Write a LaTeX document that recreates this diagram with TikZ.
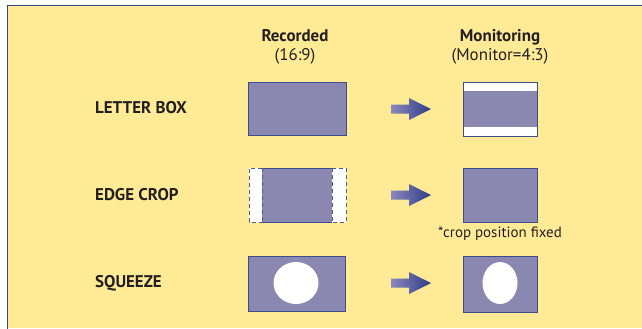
\documentclass[tikz,border=0pt]{standalone}
\usepackage{fontspec}
\setmainfont{PT Sans}
\definecolor{bgy}{RGB}{255,234,150}
\definecolor{boxp}{RGB}{138,136,176}
\definecolor{boxb}{RGB}{60,76,140}
\definecolor{framb}{RGB}{50,70,140}
\definecolor{arrl}{RGB}{140,135,190}
\definecolor{arrd}{RGB}{45,60,135}
\definecolor{txt}{RGB}{35,31,32}
\begin{document}
\begin{tikzpicture}[x=1bp,y=-1bp,
  lbl/.style={font=\bfseries\fontsize{17}{20}\selectfont, text=txt, anchor=west, inner sep=0pt},
  head/.style={font=\fontsize{17}{18.5}\selectfont, text=txt, align=center, inner sep=0pt},
  pbox/.style={fill=boxp, draw=boxb, line width=0.9bp},
]
\useasboundingbox (0,0) rectangle (642,328);
\fill[white] (0,0) rectangle (642,328);
\fill[bgy] (7,5) rectangle (642,328);
\draw[framb, line width=1.6bp] (7.5,330) -- (7.5,5.5) -- (644,5.5);

% headers
\node[head] (rec) at (295,47) {\textbf{Recorded}\\(16:9)};
\node[head] (mon) at (500,47) {\textbf{Monitoring}\\(Monitor=4:3)};

% labels
\node[lbl] (lb) at (95,108) {LETTER BOX};
\node[lbl] (ec) at (95,195) {EDGE CROP};
\node[lbl] (sq) at (95,283) {SQUEEZE};

% row 1: letter box
\draw[pbox] (248,82) rectangle (346,135);
\node[inner sep=0pt, minimum width=98bp, minimum height=53bp] (r1) at (297,108.5) {};
\fill[white] (463,82) rectangle (537,136);
\fill[boxp] (463,91) rectangle (537,127);
\draw[boxb, line width=0.9bp] (463,82) rectangle (537,136);
\node[inner sep=0pt, minimum width=74bp, minimum height=54bp] (m1) at (500,109) {};

% row 2: edge crop
\fill[white] (249,168) rectangle (346,222);
\fill[boxp] (262,168) rectangle (332,222);
\draw[boxb, line width=0.9bp] (262,168) -- (332,168) (262,222) -- (332,222);
\draw[boxb!70!gray, line width=0.9bp, dash pattern=on 4bp off 3bp]
  (262,168) -- (249,168) -- (249,222) -- (262,222)
  (332,168) -- (346,168) -- (346,222) -- (332,222)
  (262,168) -- (262,222) (332,168) -- (332,222);
\node[inner sep=0pt, minimum width=97bp, minimum height=54bp] (r2) at (297.5,195) {};
\draw[pbox] (463,168) rectangle (537,222);
\node[inner sep=0pt, minimum width=74bp, minimum height=54bp] (m2) at (500,195) {};
\node[font=\fontsize{15}{17}\selectfont, text=txt, inner sep=0pt] (note) at (500,233.5) {*crop position fixed};

% row 3: squeeze
\draw[pbox] (248,256) rectangle (345,311);
\fill[white] (296,283) ellipse [x radius=22.5, y radius=21];
\node[inner sep=0pt, minimum width=97bp, minimum height=55bp] (r3) at (296.5,283.5) {};
\draw[pbox] (463,256) rectangle (537,312);
\fill[white] (500,283) ellipse [x radius=17.5, y radius=21];
\node[inner sep=0pt, minimum width=74bp, minimum height=56bp] (m3) at (500,284) {};

% arrows
\foreach \yy in {109,195,283}{
  \shade[left color=arrl, right color=arrd]
    (391,\yy-4.5) -- (409,\yy-4.5) -- (409,\yy-11) -- (431,\yy) -- (409,\yy+11) -- (409,\yy+4.5) -- (391,\yy+4.5) -- cycle;
}
\end{tikzpicture}
\end{document}
